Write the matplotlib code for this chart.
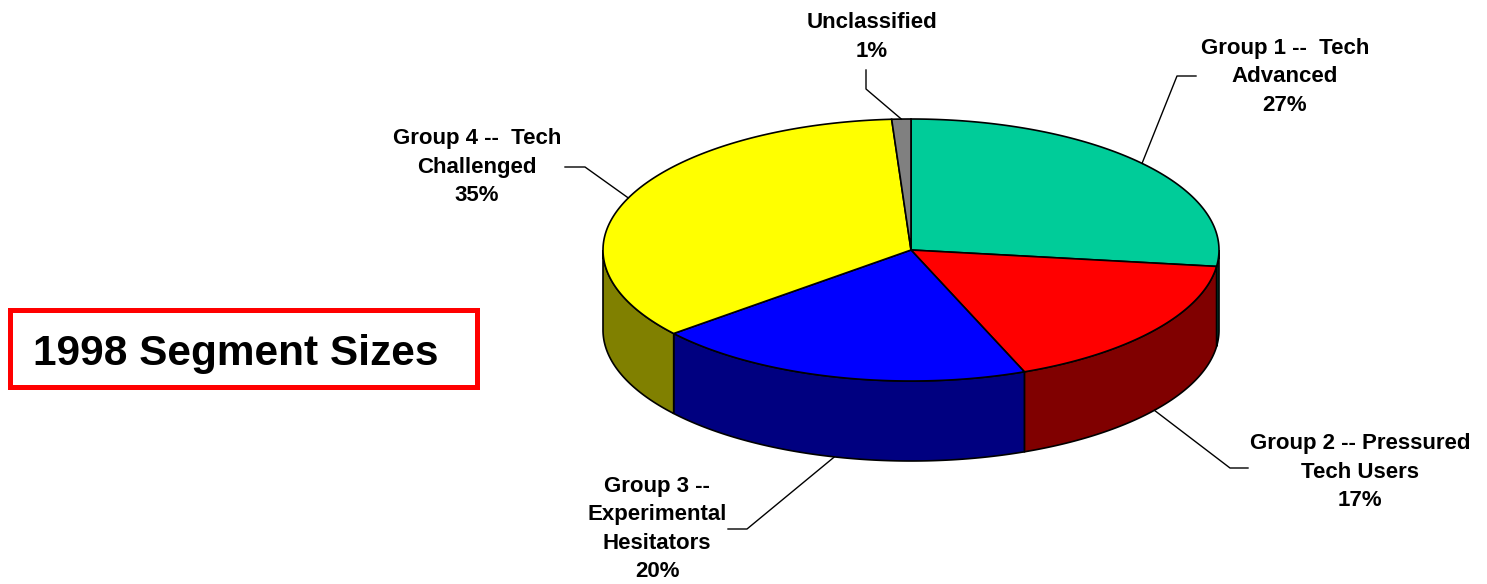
import numpy as np
import matplotlib
matplotlib.use('Agg')
import matplotlib.pyplot as plt
from matplotlib.patches import Polygon, Rectangle

# data
segments = ['Group 1 --  Tech\nAdvanced', 'Group 2 -- Pressured\nTech Users',
            'Group 3 --\nExperimental\nHesitators', 'Group 4 --  Tech\nChallenged',
            'Unclassified']
shares = [27, 17, 20, 35, 1]
top_colors = ['#00CC99', '#FF0000', '#0000FF', '#FFFF00', '#808080']
side_colors = ['#006650', '#800000', '#000080', '#808000', '#404040']
title = '1998 Segment Sizes'

# layout (pixels)
cx, cy, rx, ry, depth = 911, 250, 308, 131, 80
label_xy = [(1285, 77), (1360, 472), (657, 529), (477, 167), (872, 37)]
leader_start = [(1196, 76), (1248, 468), (728, 529), (565, 167), (866, 70)]
leader_knee = [(1177, 76), (1230, 468), (747, 529), (585, 167), (866, 89)]

plt.rcParams['font.family'] = ['Liberation Sans', 'DejaVu Sans']

fig = plt.figure(figsize=(14.87, 5.84), dpi=100)
ax = fig.add_axes([0, 0, 1, 1])
ax.set_xlim(0, 1487)
ax.set_ylim(584, 0)
ax.axis('off')


def pt(theta, dz=0):
    return cx + rx * np.cos(theta), cy - ry * np.sin(theta) + dz


total = float(sum(shares))
starts = []
a = np.pi / 2
for v in shares:
    a2 = a - 2 * np.pi * v / total
    starts.append((a, a2))
    a = a2

# sides first (only the front half, sin < 0)
for (a1, a2), sc in zip(starts, side_colors):
    lo, hi = max(a2, -np.pi), min(a1, 0)
    if hi <= lo:
        continue
    t = np.linspace(hi, lo, 200)
    xs, ys = pt(t)
    xb, yb = pt(t[::-1], depth)
    poly = np.column_stack([np.r_[xs, xb], np.r_[ys, yb]])
    ax.add_patch(Polygon(poly, closed=True, fc=sc, ec='black', lw=1.2, zorder=1))

# tops
for (a1, a2), tc in zip(starts, top_colors):
    t = np.linspace(a1, a2, 300)
    xs, ys = pt(t)
    poly = np.column_stack([np.r_[cx, xs], np.r_[cy, ys]])
    ax.add_patch(Polygon(poly, closed=True, fc=tc, ec='black', lw=1.2, zorder=2))

# labels and leaders
for i, (lab, v) in enumerate(zip(segments, shares)):
    a1, a2 = starts[i]
    mid = (a1 + a2) / 2
    dz = depth if np.sin(mid) < 0 else 0
    px, py = pt(mid, dz)
    sx, sy = leader_start[i]
    kx, ky = leader_knee[i]
    ax.plot([sx, kx, px], [sy, ky, py], color='black', lw=1, zorder=3)
    ax.text(label_xy[i][0], label_xy[i][1], f'{lab}\n{v}%', ha='center', va='center',
            fontsize=16, fontweight='bold', linespacing=1.47, zorder=4)

# title box
ax.add_patch(Rectangle((10, 310), 467, 77, fc='white', ec='#FF0000', lw=3.6, zorder=2))
ax.text(33, 365, title, ha='left', va='baseline', fontsize=30.5, fontweight='bold', zorder=3)

plt.savefig('out.png', dpi=100)
